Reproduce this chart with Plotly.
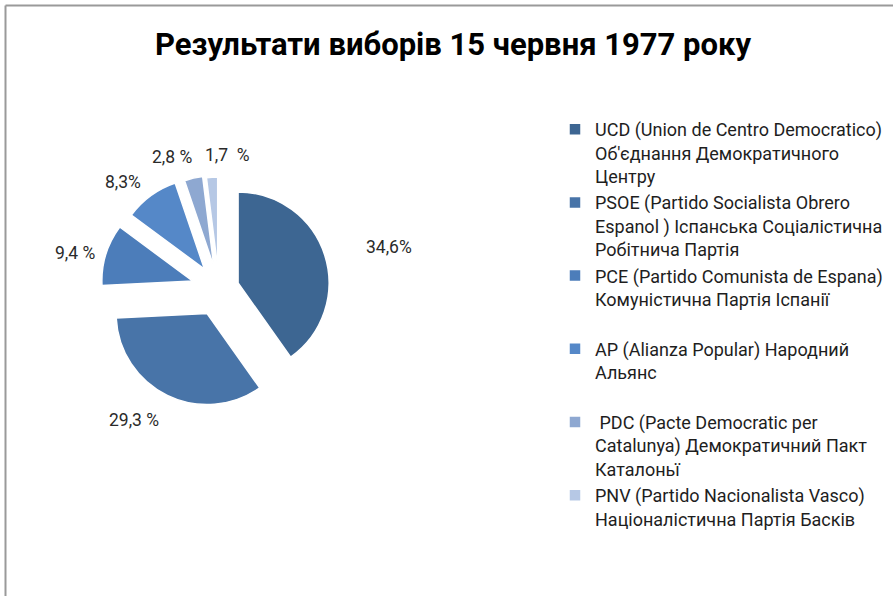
import plotly.graph_objects as go

# Data
parties = [
    "UCD (Union de Centro Democratico)<br>Об'єднання Демократичного<br>Центру",
    "PSOE (Partido Socialista Obrero<br>Espanol ) Іспанська Соціалістична<br>Робітнича Партія",
    "PCE (Partido Comunista de Espana)<br>Комуністична Партія Іспанії<br> ",
    "AP (Alianza Popular) Народний<br>Альянс<br> ",
    " PDC (Pacte Democratic per<br>Catalunya) Демократичний Пакт<br>Каталоньї",
    "PNV (Partido Nacionalista Vasco)<br>Націоналістична Партія Басків",
]
shares = [34.6, 29.3, 9.4, 8.3, 2.8, 1.7]
share_labels = ["34,6%", "29,3 %", "9,4 %", "8,3%", "2,8 %", "1,7  %"]
# label centres (pixels)
label_x = [389, 134, 75, 123, 172, 228]
label_y = [247, 420, 253, 182, 157, 155]
colors = ["#3D6692", "#4874A8", "#4C7DBA", "#5588C8", "#8EA8D1", "#B6C8E5"]
pulls = [0.22, 0.30, 0.30, 0.27, 0.25, 0.23]

W, H = 893, 596
FONT = "Roboto, sans-serif"

fig = go.Figure()
fig.add_trace(go.Pie(
    labels=parties,
    values=shares,
    textinfo="none",
    sort=False,
    direction="clockwise",
    rotation=0,
    pull=pulls,
    marker=dict(colors=colors, line=dict(color="white", width=1.5)),
    domain=dict(x=[100.7 / W, 337.3 / W], y=[(H - 407.3) / H, (H - 170.7) / H]),
    hoverinfo="label+percent",
))

annotations = [
    dict(text=t, x=lx / W, y=1 - ly / H, xref="paper", yref="paper",
         xanchor="center", yanchor="middle", showarrow=False,
         font=dict(family=FONT, size=17.5, color="#2A2A2A"))
    for t, lx, ly in zip(share_labels, label_x, label_y)
]

fig.update_layout(
    width=W, height=H,
    margin=dict(l=0, r=0, t=0, b=0),
    paper_bgcolor="white",
    plot_bgcolor="white",
    title=dict(
        text="<b>Результати виборів 15 червня 1977 року</b>",
        x=453 / W, xanchor="center",
        y=1 - 44 / H, yanchor="middle",
        font=dict(family=FONT, size=31, color="black"),
    ),
    legend=dict(
        x=555 / W, xanchor="left",
        y=1 - 111 / H, yanchor="top",
        valign="top",
        font=dict(family=FONT, size=18, color="#1E1E1E"),
        bgcolor="rgba(0,0,0,0)",
        itemclick=False,
    ),
    annotations=annotations,
    shapes=[
        dict(type="line", xref="paper", yref="paper",
             x0=5.5 / W, y0=-0.01, x1=5.5 / W, y1=1 - 5.5 / H,
             line=dict(color="#9A9A9A", width=2)),
        dict(type="line", xref="paper", yref="paper",
             x0=5.5 / W, y0=1 - 5.5 / H, x1=1.01, y1=1 - 5.5 / H,
             line=dict(color="#9A9A9A", width=2)),
    ],
)

fig.write_html("out.html", config={"displayModeBar": False},
               post_script="document.body.style.margin='0px';")
